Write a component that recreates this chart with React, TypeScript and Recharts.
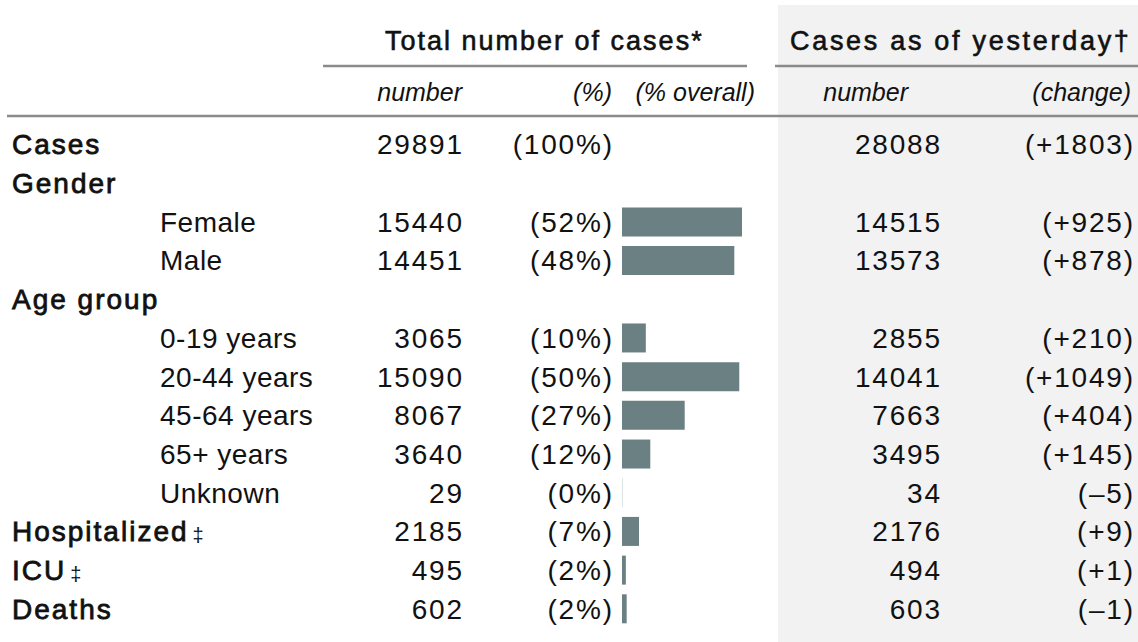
import React from 'react';
import { BarChart, Bar, XAxis, YAxis } from 'recharts';

// table rows, top to bottom
const rowLabels = ['Cases', 'Gender', 'Female', 'Male', 'Age group', '0-19 years', '20-44 years', '45-64 years', '65+ years', 'Unknown', 'Hospitalized', 'ICU', 'Deaths'];
const rowIsGroup = [true, true, false, false, true, false, false, false, false, false, true, true, true];
const rowMarks = ['', '', '', '', '', '', '', '', '', '', '‡', '‡', ''];
const rowHasBar = [false, false, true, true, false, true, true, true, true, true, true, true, true];

const totalCases = [29891, null, 15440, 14451, null, 3065, 15090, 8067, 3640, 29, 2185, 495, 602];
const totalPct = [100, null, 52, 48, null, 10, 50, 27, 12, 0, 7, 2, 2];
const yesterdayCases = [28088, null, 14515, 13573, null, 2855, 14041, 7663, 3495, 34, 2176, 494, 603];
const changeCases = [1803, null, 925, 878, null, 210, 1049, 404, 145, -5, 9, 1, -1];

const rows = rowLabels.map((label, i) => ({
  label,
  group: rowIsGroup[i],
  mark: rowMarks[i],
  total: totalCases[i],
  pct: totalPct[i],
  yesterday: yesterdayCases[i],
  change: changeCases[i],
  bar: rowHasBar[i] ? totalCases[i] : null,
}));

const FONT = '"Liberation Sans", Arial, sans-serif';
const INK = '#111';
const RULE = '#8a8a8a';
const NUM_LS = 1.8;

const fmtChange = (v: number | null) => (v == null ? '' : v < 0 ? `(–${Math.abs(v)})` : `(+${v})`);

const renderRow = (props: any) => {
  const { y, payload } = props;
  const r = rows.find((d) => d.label === payload.value);
  if (!r) return <g />;
  const base = y + 10;
  const num = (x: number, s: string | number) => (
    <text x={x + NUM_LS} y={base} fill={INK} textAnchor="end" letterSpacing={NUM_LS}>{s}</text>
  );
  return (
    <g fontFamily={FONT} fontSize={28}>
      <text
        x={r.group ? 12 : 160}
        y={base}
        fill={INK}
        stroke={r.group ? INK : 'none'}
        strokeWidth={r.group ? 0.8 : 0}
        letterSpacing={r.group ? 2 : 0.5}
      >
        {r.label}
        {r.mark ? <tspan fontSize={20} dx={4} dy={1} strokeWidth={0}>{r.mark}</tspan> : null}
      </text>
      {r.total != null && num(462, r.total)}
      {r.pct != null && num(612, `(${r.pct}%)`)}
      {r.yesterday != null && num(940, r.yesterday)}
      {r.change != null && num(1133, fmtChange(r.change))}
    </g>
  );
};

const App = () => {
  return (
    <div style={{ position: 'absolute', left: 0, top: 0, width: 1138, height: 642, background: '#fff' }}>
      <div style={{ position: 'absolute', left: 778, top: 5, width: 360, height: 637, background: '#f2f2f2' }} />
      <div style={{ position: 'absolute', left: 0, top: 0 }}>
        <BarChart
          layout="vertical"
          width={1138}
          height={642}
          data={rows}
          margin={{ top: 125, right: 396, bottom: 14, left: 612 }}
        >
          <XAxis type="number" dataKey="bar" domain={[0, 'dataMax']} hide />
          <YAxis
            type="category"
            dataKey="label"
            width={10}
            axisLine={false}
            tickLine={false}
            interval={0}
            tick={renderRow}
          />
          <Bar dataKey="bar" fill="#6b8083" barSize={29} isAnimationActive={false} />
        </BarChart>
      </div>
      <svg width={1138} height={130} style={{ position: 'absolute', left: 0, top: 0 }} fontFamily={FONT} fill={INK}>
        <g fontSize={27} stroke={INK} strokeWidth={0.6}>
          <text x={385} y={50} letterSpacing={2}>Total number of cases*</text>
          <text x={790} y={50} letterSpacing={2.7}>Cases as of yesterday†</text>
        </g>
        <line x1={323} x2={747} y1={66} y2={66} stroke={RULE} strokeWidth={2.5} />
        <line x1={775} x2={1138} y1={66} y2={66} stroke={RULE} strokeWidth={2.5} />
        <g fontSize={25} fontStyle="italic">
          <text x={462} y={101} textAnchor="end">number</text>
          <text x={612} y={101} textAnchor="end">(%)</text>
          <text x={755} y={101} textAnchor="end">(% overall)</text>
          <text x={908} y={101} textAnchor="end">number</text>
          <text x={1131} y={101} textAnchor="end">(change)</text>
        </g>
        <line x1={7} x2={1138} y1={116} y2={116} stroke={RULE} strokeWidth={2.5} />
      </svg>
    </div>
  );
};

export default App;
